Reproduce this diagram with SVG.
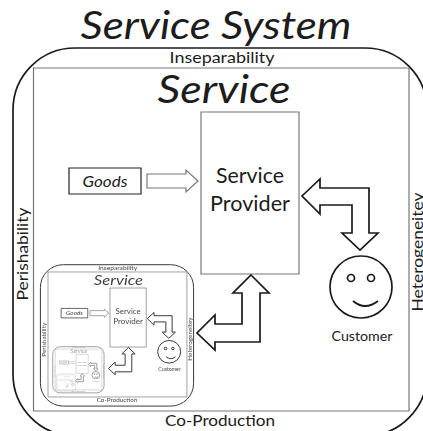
<svg xmlns="http://www.w3.org/2000/svg" xmlns:xlink="http://www.w3.org/1999/xlink" width="423" height="431" viewBox="0 0 423 431">
<style>
text{font-family:Lato,"Open Sans","Liberation Sans",sans-serif;fill:#1c1c1c;text-anchor:middle}
.it{font-style:italic}
.shape{fill:none;stroke:#1a1a1a;stroke-width:var(--sw,1.7);vector-effect:non-scaling-stroke;stroke-linejoin:miter}
.box{fill:#fff;stroke:#777;stroke-width:var(--bw,1.2);vector-effect:non-scaling-stroke}
.boxd{fill:#fff;stroke:#222;stroke-width:var(--bw,1.2);vector-effect:non-scaling-stroke}
.flow{fill:#fff;stroke:#1a1a1a;stroke-width:var(--sw,1.7);vector-effect:non-scaling-stroke;stroke-linejoin:miter}
.flowg{fill:#fff;stroke:#777;stroke-width:var(--bw,1.2);vector-effect:non-scaling-stroke}
</style>
<defs>
<filter id="b1" x="-5%" y="-5%" width="110%" height="110%"><feGaussianBlur stdDeviation="0.35"/></filter>
<filter id="b2" x="-5%" y="-5%" width="110%" height="110%"><feGaussianBlur stdDeviation="0.5"/></filter>
</defs>
<rect width="423" height="431" fill="#fff"/>
<text id="title" class="it" x="216" y="39" font-size="38.500" textLength="271" lengthAdjust="spacingAndGlyphs">Service System</text>
<g id="level">
<g id="service-system"><rect class="shape" x="13" y="48" width="414" height="388" rx="62" ry="62"/></g>
<g id="service"><rect class="box" x="33.5" y="68" width="375.5" height="343"/></g>
<text x="222" y="62.500" font-size="15" textLength="105" lengthAdjust="spacingAndGlyphs">Inseparability</text>
<text x="220" y="426" font-size="15" textLength="110" lengthAdjust="spacingAndGlyphs">Co-Production</text>
<text transform="translate(28 254) rotate(-90)" font-size="15" textLength="93" lengthAdjust="spacingAndGlyphs">Perishability</text>
<text transform="translate(423 252) rotate(-90)" font-size="15" textLength="119" lengthAdjust="spacingAndGlyphs">Heterogeneitey</text>
<text class="it" x="224" y="103" font-size="39" textLength="133" lengthAdjust="spacingAndGlyphs">Service</text>
<g id="goods"><rect class="boxd" x="69" y="168" width="72" height="26"/><text class="it" x="105" y="187" font-size="14.500" textLength="45" lengthAdjust="spacingAndGlyphs">Goods</text></g>
<g id="service-provider"><rect class="box" x="201" y="112" width="98" height="162"/><text x="250" y="183" font-size="22" textLength="68" lengthAdjust="spacingAndGlyphs">Service</text><text x="250" y="211" font-size="22" textLength="80" lengthAdjust="spacingAndGlyphs">Provider</text></g>
<g id="customer"><circle class="shape" cx="361" cy="287" r="31"/><circle class="shape" cx="351" cy="278" r="3.500"/><circle class="shape" cx="371" cy="278" r="3.500"/><path class="shape" d="M353 301Q365 311 378 301"/><text x="362" y="341" font-size="13.500" textLength="61" lengthAdjust="spacingAndGlyphs">Customer</text></g>
<g id="connectors">
<path class="flowg" d="M147 174H186V170L198 181L186 192V188H147Z"/>
<path class="flow" d="M302 196L320 179V188H369V233H378L360 250L342 233H352V205H320V214Z"/>
<path class="flow" d="M251 275L269 293H260V342H215V350L197 333L215 315V324H242V293H233Z"/>
</g>
</g>
<g id="nested-1" transform="translate(35.6 247.2) scale(.37 .3644)" filter="url(#b1)" style="--sw:1;--bw:.8" opacity=".85"><use href="#level" xlink:href="#level"/></g>
<g id="nested-2" transform="translate(51.1 341) scale(.124 .119)" filter="url(#b2)" style="--sw:.9;--bw:.6" opacity=".45"><use href="#level" xlink:href="#level"/></g>
<g id="nested-3" transform="translate(56 372) scale(.046 .044)" filter="url(#b2)" style="--sw:.6;--bw:.4" opacity=".22"><use href="#level" xlink:href="#level"/></g>
</svg>
